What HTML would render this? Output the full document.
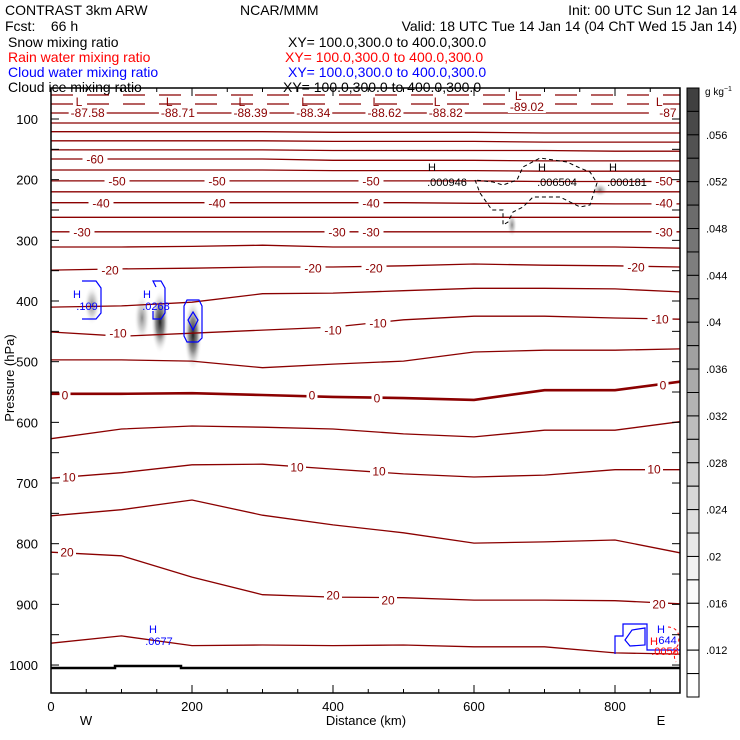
<!DOCTYPE html>
<html><head><meta charset="utf-8"><style>
body{margin:0;background:#fff}
svg{display:block;font-family:"Liberation Sans",sans-serif}
</style></head><body>
<svg id="c" width="740" height="740" viewBox="0 0 740 740" xmlns="http://www.w3.org/2000/svg">
<defs>
<radialGradient id="g1"><stop offset="0" stop-color="#222" stop-opacity="1"/><stop offset="0.45" stop-color="#555" stop-opacity="0.7"/><stop offset="1" stop-color="#fff" stop-opacity="0"/></radialGradient>
<radialGradient id="g2"><stop offset="0" stop-color="#777" stop-opacity="0.85"/><stop offset="0.5" stop-color="#aaa" stop-opacity="0.5"/><stop offset="1" stop-color="#fff" stop-opacity="0"/></radialGradient>
</defs>
<g font-size="14">
<text x="5" y="15">CONTRAST  3km ARW</text>
<text x="240" y="15">NCAR/MMM</text>
<text x="737" y="15" text-anchor="end">Init: 00 UTC Sun 12 Jan 14</text>
<text x="5" y="31" xml:space="preserve">Fcst:    66 h</text>
<text x="737" y="31" text-anchor="end">Valid: 18 UTC Tue 14 Jan 14 (04 ChT Wed 15 Jan 14)</text>
<text x="8" y="47">Snow mixing ratio</text>
<text x="288" y="47">XY= 100.0,300.0 to 400.0,300.0</text>
<text x="8" y="62" fill="#f00">Rain water mixing ratio</text>
<text x="285" y="62" fill="#f00">XY= 100.0,300.0 to 400.0,300.0</text>
<text x="8" y="77" fill="#00f">Cloud water mixing ratio</text>
<text x="288" y="77" fill="#00f">XY= 100.0,300.0 to 400.0,300.0</text>
<text x="8" y="92">Cloud ice mixing ratio</text>
<text x="283" y="92">XY= 100.0,300.0 to 400.0,300.0</text>
</g>
<g id="plot"></g>
<g id="cbar"></g>
</svg>
<script>
const kmGrid=[0,100,200,300,400,500,600,700,800,892];
const isoTemps=[-75,-70,-65,-60,-55,-50,-45,-40,-35,-30,-25,-20,-15,-10,-5,0,5,10,15,20,25];
const isoP_m75=[121,121,121,121,122,122,122,123,123,123];
const isoP_m70=[136,136,136,136,137,137,137,138,138,138];
const isoP_m65=[151,151,151,151,152,152,152,152,153,153];
const isoP_m60=[166,166,166,166,168,168,168,169,169,169];
const isoP_m55=[184,184,184,184,185,185,185,186,186,186];
const isoP_m50=[202,202,202,202,202,202,202,203,203,203];
const isoP_m45=[220,220,220,220,220,220,220,220,220,220];
const isoP_m40=[238,238,238,238,238,238,239,239,240,240];
const isoP_m35=[262,262,262,262,262,262,262,262,262,262];
const isoP_m30=[286,286,286,286,286,286,286,286,286,286];
const isoP_m25=[311,311,310,308,311,311,311,311,311,313];
const isoP_m20=[349,347,346,344,344,342,339,341,342,344];
const isoP_m15=[410,408,402,388,387,383,379,379,380,385];
const isoP_m10=[451,458,453,448,443,431,425,425,428,430];
const isoP_m5=[497,497,499,510,504,499,484,481,481,479];
const isoP_0=[553,553,552,555,558,560,563,547,547,533];
const isoP_5=[627,611,606,608,611,619,624,613,613,599];
const isoP_10=[692,683,670,669,677,685,690,687,678,678];
const isoP_15=[754,744,728,753,769,782,799,797,794,815];
const isoP_20=[814,820,855,884,888,889,893,893,894,899];
const isoP_25=[964,952,968,967,968,967,970,970,980,982];
const isoSeries=[isoP_m75,isoP_m70,isoP_m65,isoP_m60,isoP_m55,isoP_m50,isoP_m45,isoP_m40,isoP_m35,isoP_m30,isoP_m25,isoP_m20,isoP_m15,isoP_m10,isoP_m5,isoP_0,isoP_5,isoP_10,isoP_15,isoP_20,isoP_25];
const xTicks=[0,200,400,600,800];
const yTicks=[100,200,300,400,500,600,700,800,900,1000];
const minTemps=["-87.58","-88.71","-88.39","-88.34","-88.62","-88.82","-89.02","-87"];
const minKm=[52,180,283,372,473,560,675,875];
const cbarLabels=[".056",".052",".048",".044",".04",".036",".032",".028",".024",".02",".016",".012"];

const X=km=>51+km*0.705;
const Y=p=>119+(p-100)*0.6067;
const NS="http://www.w3.org/2000/svg";
const plot=document.getElementById('plot');
function mk(tag,attrs,parent){const e=document.createElementNS(NS,tag);for(const k in attrs)e.setAttribute(k,attrs[k]);(parent||plot).appendChild(e);return e;}
const DR="#8b0000";

// snow shading blobs
[[92,305,8,20,'g2'],[142,318,8,24,'g2'],[160,322,9,32,'g1'],[193,335,9,36,'g1'],[512,225,5,12,'g2'],[600,190,8,7,'g2']].forEach(b=>{
 const e=mk('ellipse',{cx:b[0],cy:b[1],rx:b[2],ry:b[3],fill:'url(#'+b[4]+')'});
 
 
});

// top stratosphere lines
[[95,'0'],[104,'0'],[113,'0'],[123,'0']].forEach((l,i)=>{
 const e=mk('line',{x1:51,x2:680,y1:l[0],y2:l[0],stroke:DR,'stroke-width':1.2,'stroke-dasharray':i<2?'22 14':'none'});
 
 
});

// isotherms
isoSeries.forEach((arr,i)=>{
 const pts=arr.map((p,j)=>X(kmGrid[j]).toFixed(1)+','+Y(p).toFixed(1)).join(' ');
 const e=mk('polyline',{points:pts,fill:'none',stroke:DR,'stroke-width':isoTemps[i]===0?2.6:1.3});
 
 
});

// isotherm labels
const labs=[[95,159,'-60'],[117,181,'-50'],[217,181,'-50'],[371,181,'-50'],[664,181,'-50'],[101,203,'-40'],[217,203,'-40'],[371,203,'-40'],[664,203,'-40'],[82,232,'-30'],[337,232,'-30'],[371,232,'-30'],[664,232,'-30'],[110,270,'-20'],[313,268,'-20'],[374,268,'-20'],[636,267,'-20'],[118,333,'-10'],[333,330,'-10'],[378,323,'-10'],[660,319,'-10'],[65,395,'0'],[312,395,'0'],[377,398,'0'],[663,385,'0'],[69,477,'10'],[297,467,'10'],[379,471,'10'],[654,469,'10'],[67,552,'20'],[333,595,'20'],[388,600,'20'],[659,604,'20']];
labs.forEach(l=>{
 const w=l[2].length*7+4;
 const r=mk('rect',{x:l[0]-w/2,y:l[1]-6,width:w,height:12,fill:'#fff'});
 
 
 const t=mk('text',{x:l[0],y:l[1]+4.5,'text-anchor':'middle','font-size':12,fill:DR});
 t.textContent=l[2];
 
 
});

// minima L markers
minKm.forEach((km,i)=>{
 const x=X(km);
 const yv=i===6?107:113;
 const r=mk('rect',{x:x-19,y:yv-6,width:38,height:12,fill:'#fff'});
 
 
 const L=mk('text',{x:x-12,y:yv-7,'font-size':12,fill:DR});
 L.textContent='L';
 
 
 const t=mk('text',{x:x,y:yv+4,'text-anchor':'middle','font-size':12,fill:DR});
 t.textContent=minTemps[i];
 
 
});

// cloud ice dashed contour
const ice=mk('path',{d:'M475,180 L480,193 L492,210 L503,210 L503,225 L508,222 L513,212 L523,207 L533,197 L560,197 L580,207 L590,205 L597,183 L590,172 L580,168 L567,162 L540,158 L523,167 L517,180 L503,185 L493,182 Z',fill:'none',stroke:'#000','stroke-width':1,'stroke-dasharray':'4 3'});


[[432,171,'H'],[447,186,'.000946'],[542,171,'H'],[557,186,'.006504'],[613,171,'H'],[627,186,'.000181']].forEach(l=>{
 const t=mk('text',{x:l[0],y:l[1],'text-anchor':'middle','font-size':11,fill:'#000'});
 t.textContent=l[2];
 
 
});

// cloud water contours
['M82,281 L96,281 L101,288 L101,313 L96,319 L82,319','M156,287 L153,281 L161,281 L165,288 L165,313 L161,319 L153,319 L153,311','M187,300 L199,300 L202,306 L202,338 L198,342 L187,342 L184,336 L184,306 Z','M193,312 L198,320 L193,330 L188,320 Z','M615,654 L615,636 L623,636 L623,624 L647,624 L647,650 L680,650','M625,640 L632,630 L645,628 L645,645 L630,646 Z'].forEach(d=>{
 const e=mk('path',{d:d,fill:'none',stroke:'#00f','stroke-width':1.2});
 
 
});
const rd=mk('path',{d:'M668,627 Q682,628 678,645 Q672,655 676,662',fill:'none',stroke:'#f00','stroke-width':1,'stroke-dasharray':'3 3'});


[[77,298,'H','#00f'],[87,310,'.109','#00f'],[147,298,'H','#00f'],[156,310,'.0268','#00f'],[153,633,'H','#00f'],[159,645,'.0677','#00f'],[661,633,'H','#00f'],[666,644,'.644','#00f'],[654,645,'H','#f00'],[665,655,'.0058','#f00']].forEach(l=>{
 const t=mk('text',{x:l[0],y:l[1],'text-anchor':'middle','font-size':11,fill:l[3]});
 t.textContent=l[2];
 
 
});

// surface
const sf=mk('path',{d:'M51,668 L115,668 L115,666 L181,666 L181,668 L680,668',fill:'none',stroke:'#000','stroke-width':2.5});



// frame
const fr=mk('rect',{x:51,y:88,width:629,height:605,fill:'none',stroke:'#000','stroke-width':1.5});



// y ticks
for(let p=50;p<=1040;p+=50){
 const y=Y(p); if(y<89||y>692)continue;
 const a=mk('line',{x1:51,x2:59,y1:y,y2:y,stroke:'#000'});
 
 
 const b=mk('line',{x1:672,x2:680,y1:y,y2:y,stroke:'#000'});
 
 
}
yTicks.forEach(p=>{
 const t=mk('text',{x:38,y:Y(p)+5,'text-anchor':'end','font-size':13});
 t.textContent=p;
 
 
});
for(let k=50;k<=850;k+=50){
 const x=X(k);const len=k%200===0?8:4;
 const a=mk('line',{x1:x,x2:x,y1:693,y2:693-len,stroke:'#000'});
 
 
 const b=mk('line',{x1:x,x2:x,y1:88,y2:88+len,stroke:'#000'});
 
 
}
xTicks.forEach(k=>{
 const t=mk('text',{x:X(k),y:711,'text-anchor':'middle','font-size':13});
 t.textContent=k;
 
 
});
[[366,725,'Distance (km)','x-axis-title'],[86,725,'W','west-label'],[661,725,'E','east-label']].forEach(l=>{
 const t=mk('text',{x:l[0],y:l[1],'text-anchor':'middle','font-size':13});
 t.textContent=l[2];
 
 
});
const yt=mk('text',{x:0,y:0,'text-anchor':'middle','font-size':13,transform:'translate(14,378) rotate(-90)'});
yt.textContent='Pressure (hPa)';



// colorbar
const cb=document.getElementById('cbar');
const nBox=26,bh=(697-88)/nBox;
for(let i=0;i<nBox;i++){
 let g=i>=22?255:Math.round(64+i*(250-64)/21);
 const r=mk('rect',{x:687,y:88+i*bh,width:12,height:bh,fill:`rgb(${g},${g},${g})`,stroke:'#000','stroke-width':1},cb);
 
 
}
cbarLabels.forEach((s,i)=>{
 const t=mk('text',{x:706,y:88+(2+2*i)*bh+4,'font-size':11},cb);
 t.textContent=s;
 
 
});
const u=mk('text',{x:705,y:95,'font-size':10},cb);
u.innerHTML='g  kg<tspan dy="-4" font-size="7">−1</tspan>';


</script>
</body></html>
